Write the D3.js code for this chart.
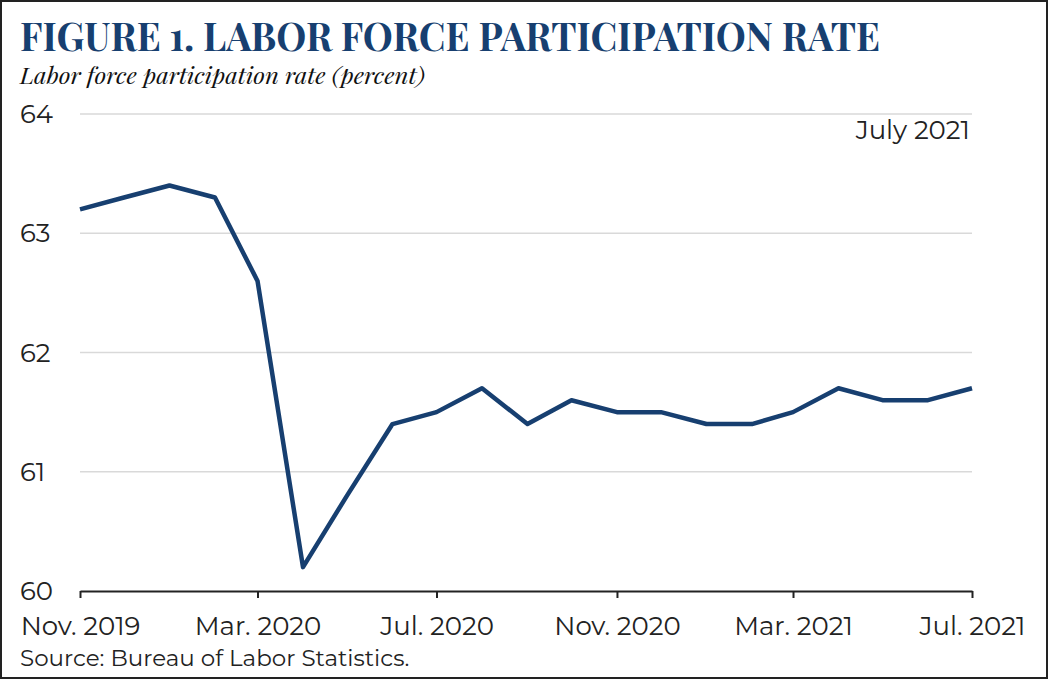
<!DOCTYPE html>
<html>
<head>
<meta charset="utf-8">
<script src="https://cdn.jsdelivr.net/npm/d3@7"></script>
<style>
  body { margin: 0; background: #fff; }
  svg { display: block; }
</style>
</head>
<body>
<div id="container"></div>
<script>
// months from Nov. 2019 to Jul. 2021
let months = ["2019-11", "2019-12", "2020-01", "2020-02", "2020-03", "2020-04", "2020-05",
    "2020-06", "2020-07", "2020-08", "2020-09", "2020-10", "2020-11", "2020-12",
    "2021-01", "2021-02", "2021-03", "2021-04", "2021-05", "2021-06", "2021-07"];
let rates = [63.2, 63.3, 63.4, 63.3, 62.6, 60.2, 60.8, 61.4, 61.5, 61.7, 61.4, 61.6,
    61.5, 61.5, 61.4, 61.4, 61.5, 61.7, 61.6, 61.6, 61.7];
let yTicks = [60, 61, 62, 63, 64];
let xTickMonths = ["2019-11", "2020-03", "2020-07", "2020-11", "2021-03", "2021-07"];
let xTickLabels = ["Nov. 2019", "Mar. 2020", "Jul. 2020", "Nov. 2020", "Mar. 2021", "Jul. 2021"];

let width = 1048;
let height = 679;
let navy = "#173f70";
let sans = "Montserrat, Inter, 'Open Sans', sans-serif";

let parse = d3.timeParse("%Y-%m");
let data = months.map((m, i) => ({ date: parse(m), value: rates[i] }));

let svg = d3.select("#container")
    .append("svg")
    .attr("width", width)
    .attr("height", height);

//frame
svg.append("rect")
    .attr("x", 1).attr("y", 1)
    .attr("width", width - 2).attr("height", height - 2)
    .attr("fill", "none")
    .attr("stroke", "#222")
    .attr("stroke-width", 2);

let x = d3.scaleTime()
    .domain(d3.extent(data, d => d.date))
    .range([80, 972]);

let y = d3.scaleLinear()
    .domain([60, 64])
    .range([591, 114]);

//gridlines
svg.append("g")
    .selectAll("line")
    .data(yTicks.slice(1))
    .enter()
    .append("line")
    .attr("x1", 80).attr("x2", 972)
    .attr("y1", d => y(d)).attr("y2", d => y(d))
    .attr("stroke", "#d9d9d9")
    .attr("stroke-width", 1.5);

//y labels
svg.append("g")
    .selectAll("text")
    .data(yTicks)
    .enter()
    .append("text")
    .attr("x", 20)
    .attr("y", d => y(d))
    .attr("dy", "0.35em")
    .attr("font-family", sans)
    .attr("font-size", 26)
    .attr("fill", "#222")
    .text(d => d);

//x axis
let xAxis = d3.axisBottom(x)
    .tickValues(xTickMonths.map(parse))
    .tickFormat((d, i) => xTickLabels[i])
    .tickSize(7)
    .tickSizeOuter(0)
    .tickPadding(19);

let gx = svg.append("g")
    .attr("transform", "translate(0," + y(60) + ")")
    .call(xAxis);
gx.select(".domain").attr("stroke", "#222").attr("stroke-width", 2);
gx.selectAll(".tick line").attr("stroke", "#222").attr("stroke-width", 2);
gx.selectAll(".tick text")
    .attr("font-family", sans)
    .attr("font-size", 26)
    .attr("fill", "#222");

//the line
let line = d3.line()
    .x(d => x(d.date))
    .y(d => y(d.value));

svg.append("path")
    .datum(data)
    .attr("d", line)
    .attr("fill", "none")
    .attr("stroke", navy)
    .attr("stroke-width", 4.5)
    .attr("stroke-linejoin", "round");

//titles
svg.append("text")
    .attr("x", 20).attr("y", 51)
    .attr("font-family", "'Playfair Display', 'Liberation Serif', serif")
    .attr("font-weight", "bold")
    .attr("font-size", 39)
    .attr("textLength", 860)
    .attr("lengthAdjust", "spacingAndGlyphs")
    .attr("fill", navy)
    .text("FIGURE 1. LABOR FORCE PARTICIPATION RATE");

svg.append("text")
    .attr("x", 20).attr("y", 84)
    .attr("font-family", "'Playfair Display', 'Liberation Serif', serif")
    .attr("font-style", "italic")
    .attr("font-size", 22)
    .attr("textLength", 405)
    .attr("lengthAdjust", "spacingAndGlyphs")
    .attr("fill", "#111")
    .text("Labor force participation rate (percent)");

svg.append("text")
    .attr("x", 970).attr("y", 139)
    .attr("text-anchor", "end")
    .attr("font-family", sans)
    .attr("font-size", 26)
    .attr("fill", "#222")
    .text("July 2021");

svg.append("text")
    .attr("x", 20).attr("y", 666)
    .attr("font-family", sans)
    .attr("font-size", 23)
    .attr("fill", "#222")
    .text("Source: Bureau of Labor Statistics.");
</script>
</body>
</html>
